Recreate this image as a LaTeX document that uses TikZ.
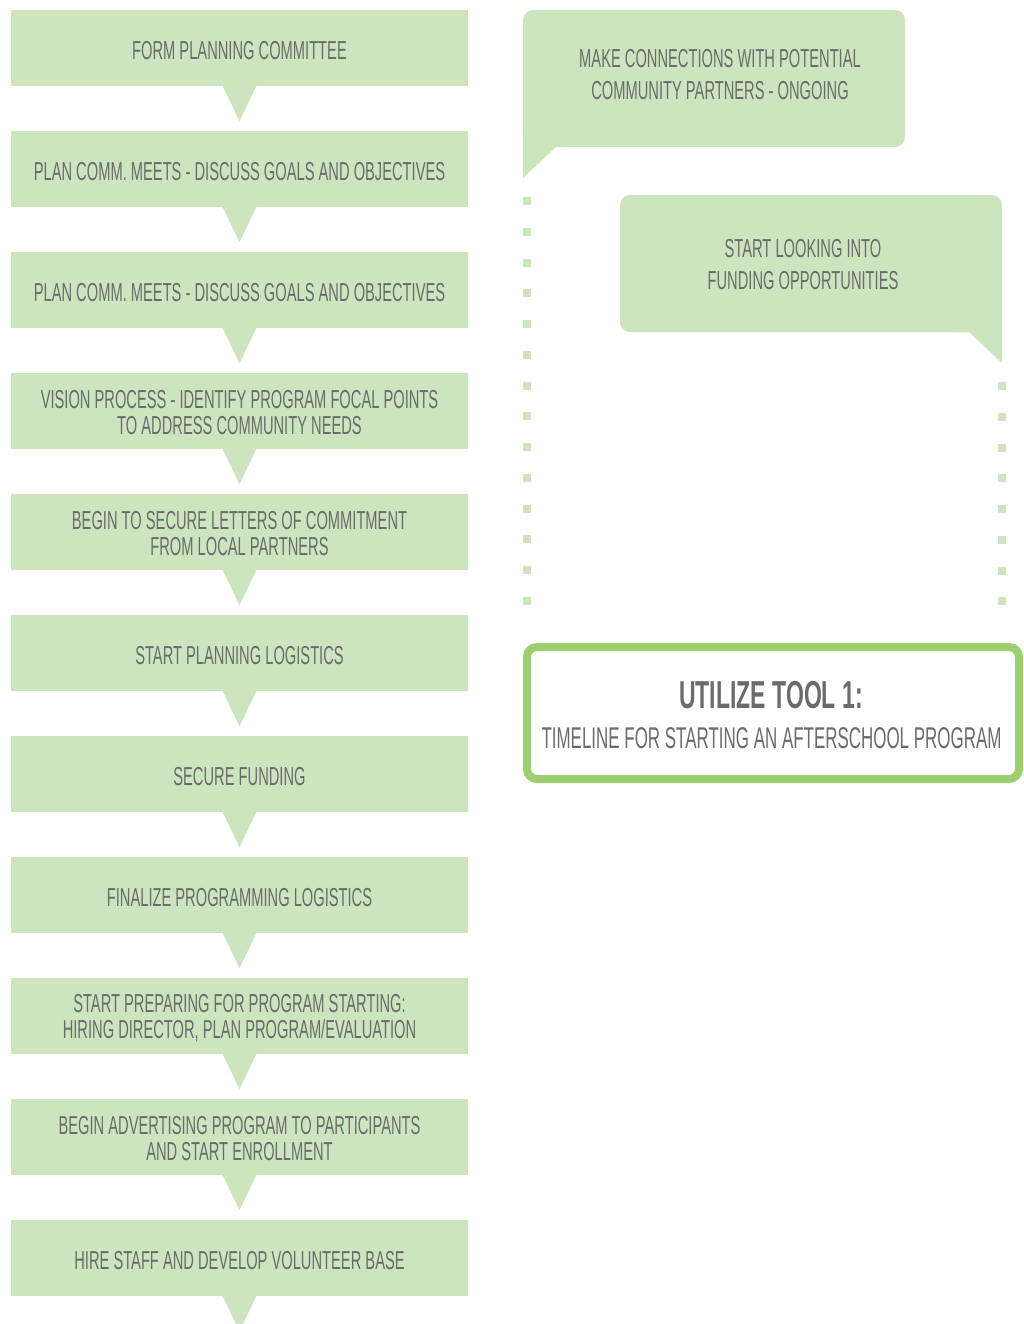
\documentclass[tikz,border=0pt]{standalone}
\usepackage{fontspec}
\usetikzlibrary{calc}
\newfontfamily\stepfont{Liberation Sans}[FakeStretch=0.565]
\newfontfamily\titlefont{Liberation Sans}[FakeStretch=0.59]
\definecolor{lgreen}{HTML}{CDE5BF}
\definecolor{tgray}{HTML}{6B6B6B}
\definecolor{bgreen}{HTML}{9DCF70}
\begin{document}
\begin{tikzpicture}[x=1pt,y=-1pt,
  stepbox/.style={fill=lgreen, minimum width=457pt, minimum height=76pt, inner sep=0pt},
  steptext/.style={text=tgray, align=center, inner sep=0pt, font=\stepfont\fontsize{26}{26}\selectfont},
  bubble/.style={fill=lgreen, rounded corners=10pt, minimum width=382pt, minimum height=137pt, inner sep=0pt},
  bubbletext/.style={text=tgray, align=center, inner sep=0pt, font=\stepfont\fontsize{26}{32}\selectfont},
  pointer/.style={fill=lgreen},
  dotline/.style={draw=lgreen, line width=8pt, dash pattern=on 8pt off 22.77pt},
  toolbox/.style={draw=bgreen, line width=8pt, fill=white, rounded corners=10pt,
    minimum width=492pt, minimum height=132pt, inner sep=0pt},
  titletext/.style={text=tgray, inner sep=0pt, font=\titlefont\bfseries\fontsize{39}{39}\selectfont},
  subtext/.style={text=tgray, inner sep=0pt, font=\stepfont\fontsize{30}{30}\selectfont}
]
\clip (0,0) rectangle (1024,1324);
\fill[white] (0,0) rectangle (1024,1324);

% steps (boxes)
\foreach \k in {1,...,11}{
  \node[stepbox] (s\k) at (239.5,{48+121*(\k-1)}) {};
  \fill[pointer] ($(s\k.south)+(-17,-0.5)$) -- ($(s\k.south)+(17,-0.5)$) -- ($(s\k.south)+(0,35)$) -- cycle;
}
% step texts
\node[steptext] (t1) at ($(s1.center)+(0,2.5)$) {FORM PLANNING COMMITTEE};
\node[steptext] (t2) at ($(s2.center)+(0,2.5)$) {PLAN COMM. MEETS - DISCUSS GOALS AND OBJECTIVES};
\node[steptext] (t3) at ($(s3.center)+(0,2.5)$) {PLAN COMM. MEETS - DISCUSS GOALS AND OBJECTIVES};
\node[steptext] (t4) at ($(s4.center)+(0,2)$) {VISION PROCESS - IDENTIFY PROGRAM FOCAL POINTS\\TO ADDRESS COMMUNITY NEEDS};
\node[steptext] (t5) at ($(s5.center)+(0,2)$) {BEGIN TO SECURE LETTERS OF COMMITMENT\\FROM LOCAL PARTNERS};
\node[steptext] (t6) at ($(s6.center)+(0,2.5)$) {START PLANNING LOGISTICS};
\node[steptext] (t7) at ($(s7.center)+(0,2.5)$) {SECURE FUNDING};
\node[steptext] (t8) at ($(s8.center)+(0,2.5)$) {FINALIZE PROGRAMMING LOGISTICS};
\node[steptext] (t9) at ($(s9.center)+(0,2)$) {START PREPARING FOR PROGRAM STARTING:\\HIRING DIRECTOR, PLAN PROGRAM/EVALUATION};
\node[steptext] (t10) at ($(s10.center)+(0,2)$) {BEGIN ADVERTISING PROGRAM TO PARTICIPANTS\\AND START ENROLLMENT};
\node[steptext] (t11) at ($(s11.center)+(0,2.5)$) {HIRE STAFF AND DEVELOP VOLUNTEER BASE};

% bubbles
\node[bubble] (b1) at (714,78.5) {};
\fill[lgreen] ($(b1.south west)+(0,31)$) -- ($(b1.south west)+(0,-15)$) -- ($(b1.south west)+(45,-15)$)
  -- ($(b1.south west)+(45,0)$) -- ($(b1.south west)+(33,0)$) -- cycle;
\node[bubbletext] (b1t) at ($(b1.center)+(6,-3.5)$) {MAKE CONNECTIONS WITH POTENTIAL\\COMMUNITY PARTNERS - ONGOING};

\node[bubble] (b2) at (811,263.5) {};
\fill[lgreen] ($(b2.south east)+(0,31)$) -- ($(b2.south east)+(-33,0)$) -- ($(b2.south east)+(-45,0)$)
  -- ($(b2.south east)+(-45,-15)$) -- ($(b2.south east)+(0,-15)$) -- cycle;
\node[bubbletext] (b2t) at ($(b2.center)+(-8,1)$) {START LOOKING INTO\\FUNDING OPPORTUNITIES};

% dotted lines
\coordinate (dl1) at (527,197);
\coordinate (dl2) at (527,606);
\coordinate (dr1) at (1002,382);
\coordinate (dr2) at (1002,606);
\draw[dotline] (dl1) -- (dl2);
\draw[dotline] (dr1) -- (dr2);

% tool box
\node[toolbox] (tool) at (773,713) {};
\node[titletext, anchor=base] (tt) at (771,708) {UTILIZE TOOL 1:};
\node[subtext, anchor=base] (ts) at (771.5,748) {TIMELINE FOR STARTING AN AFTERSCHOOL PROGRAM};
\end{tikzpicture}
\end{document}
